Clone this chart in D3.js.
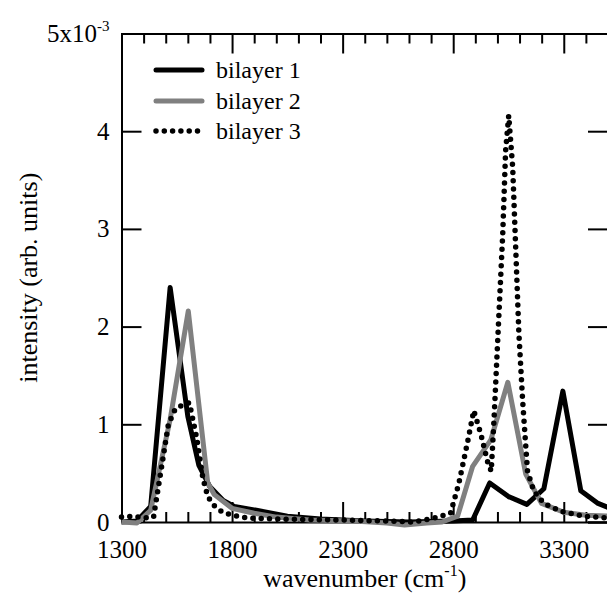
<!DOCTYPE html>
<html>
<head>
<meta charset="utf-8">
<script src="https://cdn.jsdelivr.net/npm/d3@7"></script>
<style>
  body { margin: 0; background: #fff; }
</style>
</head>
<body>
<script>
let width = 607, height = 604
let margin = { top: 33.5, right: 608, bottom: 522, left: 121.5 }
let serif = "'Liberation Serif'"

// values in units of 1e-3
let bilayer1 = [
  [1300, 0.00], [1370, 0.01], [1432, 0.16], [1520, 2.40], [1600, 1.08], [1650, 0.58],
  [1700, 0.36], [1760, 0.22], [1810, 0.16], [1910, 0.12], [2050, 0.06], [2200, 0.03],
  [2400, 0.01], [2600, 0.00], [2800, 0.01], [2888, 0.02], [2965, 0.40], [3050, 0.26],
  [3133, 0.18], [3210, 0.34], [3296, 1.34], [3377, 0.32], [3455, 0.19], [3500, 0.15]
]
let bilayer2 = [
  [1300, 0.00], [1370, -0.01], [1432, 0.12], [1520, 1.05], [1602, 2.16], [1690, 0.40],
  [1720, 0.28], [1800, 0.14], [1900, 0.09], [2000, 0.05], [2150, 0.02], [2350, 0.01],
  [2500, -0.01], [2580, -0.03], [2680, -0.01], [2750, 0.00], [2820, 0.06], [2888, 0.57],
  [2970, 0.84], [3047, 1.43], [3128, 0.49], [3200, 0.19], [3300, 0.10], [3400, 0.07],
  [3500, 0.06]
]
let bilayer3 = [
  [1300, 0.05], [1350, 0.06], [1400, 0.04], [1445, 0.05], [1512, 1.00], [1544, 1.16],
  [1580, 1.20], [1607, 1.22], [1640, 0.86], [1668, 0.45], [1690, 0.26], [1718, 0.17],
  [1757, 0.10], [1800, 0.07], [1870, 0.04], [2000, 0.03], [2300, 0.02], [2500, 0.01],
  [2620, 0.00], [2712, 0.04], [2788, 0.09], [2825, 0.39], [2866, 0.83], [2893, 1.14],
  [2925, 0.90], [2955, 0.62], [2972, 0.52], [2985, 1.07], [3006, 2.09], [3024, 2.95],
  [3037, 3.80], [3051, 4.16], [3069, 3.63], [3083, 2.78], [3097, 1.93], [3114, 1.24],
  [3136, 0.52], [3164, 0.32], [3210, 0.19], [3287, 0.11], [3391, 0.06], [3500, 0.04]
]
let legendLabels = ['bilayer 1', 'bilayer 2', 'bilayer 3']
let xMajor = [1300, 1800, 2300, 2800, 3300]
let xMinor = d3.range(1400, 3500, 100).filter(d => !xMajor.includes(d))
let yMajor = [0, 1, 2, 3, 4, 5]

let series = [
  { name: legendLabels[0], data: bilayer1, color: '#000', dash: null, w: 5 },
  { name: legendLabels[1], data: bilayer2, color: '#808080', dash: null, w: 5 },
  { name: legendLabels[2], data: bilayer3, color: '#000', dash: '0 8.3', w: 5.5 }
]

let svg = d3.select('body').append('svg')
  .attr('width', width).attr('height', height)

let x = d3.scaleLinear().domain([1300, 3500]).range([margin.left, margin.right])
let y = d3.scaleLinear().domain([0, 5]).range([margin.bottom, margin.top])

let styleAxis = g => {
  g.attr('font-size', 25)
  g.select('.domain').attr('stroke-width', 2)
  g.selectAll('.tick line').attr('stroke-width', 2)
  g.selectAll('text').style('font-family', serif)
}

// bottom
svg.append('g').attr('transform', `translate(0,${margin.bottom})`)
  .call(d3.axisBottom(x).tickValues(xMajor).tickSizeInner(-20).tickSizeOuter(0)
    .tickPadding(18).tickFormat(d3.format('d')))
  .call(styleAxis)
svg.append('g').attr('transform', `translate(0,${margin.bottom})`)
  .call(d3.axisBottom(x).tickValues(xMinor).tickSize(-10).tickFormat(''))
  .call(styleAxis).call(g => g.select('.domain').remove())

// top
svg.append('g').attr('transform', `translate(0,${margin.top})`)
  .call(d3.axisTop(x).tickValues(xMajor).tickSize(-20).tickFormat(''))
  .call(styleAxis)
svg.append('g').attr('transform', `translate(0,${margin.top})`)
  .call(d3.axisTop(x).tickValues(xMinor).tickSize(-10).tickFormat(''))
  .call(styleAxis).call(g => g.select('.domain').remove())

// left
let yAxisG = svg.append('g').attr('transform', `translate(${margin.left},0)`)
  .call(d3.axisLeft(y).tickValues(yMajor).tickSizeInner(-20).tickSizeOuter(0)
    .tickPadding(12).tickFormat(d3.format('d')))
  .call(styleAxis)
yAxisG.selectAll('.tick text').filter(d => d === 5)
  .text('5x10')
  .append('tspan').attr('dy', -11).attr('font-size', 15).text('-3')

// right
svg.append('g').attr('transform', `translate(${margin.right},0)`)
  .call(d3.axisRight(y).tickValues(yMajor).tickSize(-20).tickFormat(''))
  .call(styleAxis)

// axis titles
let xt = svg.append('text')
  .attr('x', (margin.left + margin.right) / 2).attr('y', 587)
  .attr('text-anchor', 'middle').attr('font-size', 26)
  .style('font-family', serif)
  .text('wavenumber (cm')
xt.append('tspan').attr('dy', -11).attr('font-size', 16).text('-1')
xt.append('tspan').attr('dy', 11).text(')')

svg.append('text')
  .attr('transform', `translate(37,${(margin.top + margin.bottom) / 2}) rotate(-90)`)
  .attr('text-anchor', 'middle').attr('font-size', 26)
  .style('font-family', serif)
  .text('intensity (arb. units)')

// lines
let line = d3.line().x(d => x(d[0])).y(d => y(d[1]))
svg.selectAll('.series').data(series).join('path')
  .attr('class', 'series')
  .attr('d', d => line(d.data))
  .attr('fill', 'none')
  .attr('stroke', d => d.color)
  .attr('stroke-width', d => d.w)
  .attr('stroke-linejoin', 'round')
  .attr('stroke-linecap', d => d.dash ? 'round' : 'butt')
  .attr('stroke-dasharray', d => d.dash)

// legend
let legend = svg.append('g')
let rows = legend.selectAll('g').data(series).join('g')
  .attr('transform', (d, i) => `translate(0,${[70, 101, 131][i]})`)
rows.append('line')
  .attr('x1', 156).attr('x2', 202)
  .attr('stroke', d => d.color)
  .attr('stroke-width', d => d.w)
  .attr('stroke-linecap', 'round')
  .attr('stroke-dasharray', d => d.dash)
rows.append('text')
  .attr('x', 216).attr('dy', '0.35em')
  .attr('font-size', 24)
  .style('font-family', serif)
  .text(d => d.name)
</script>
</body>
</html>
